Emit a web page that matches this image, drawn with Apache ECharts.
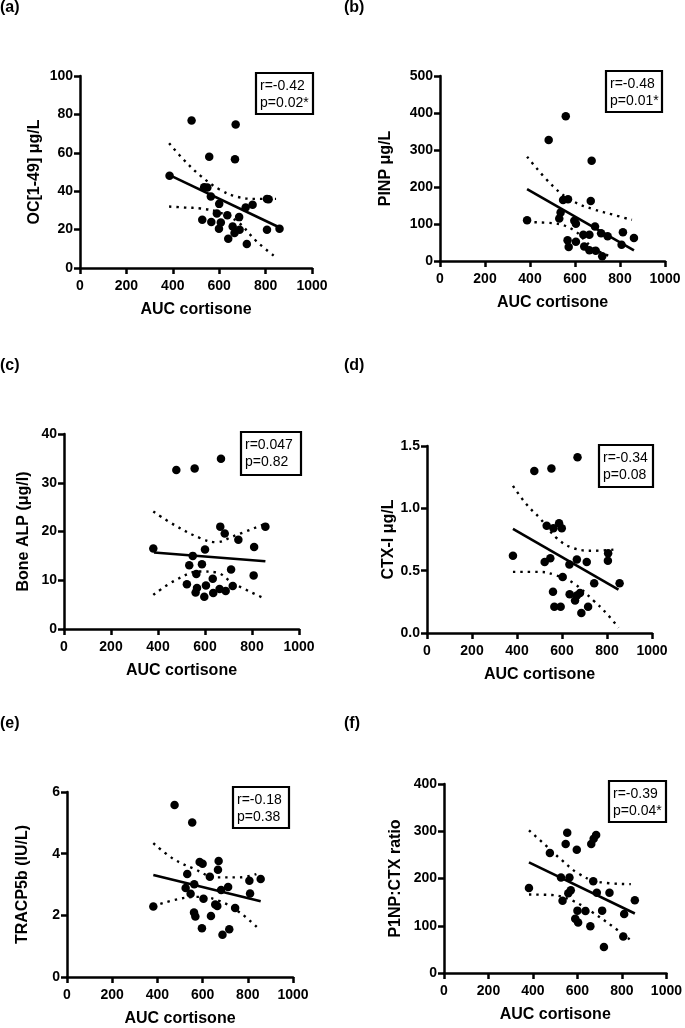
<!DOCTYPE html>
<html>
<head>
<meta charset="utf-8">
<script src="https://cdn.jsdelivr.net/npm/echarts@6/dist/echarts.min.js"></script>
<style>
html,body{margin:0;padding:0;background:#fff;}
#chart{width:685px;height:1028px;}
</style>
</head>
<body>
<div id="chart"></div>
<script>
// ---------- data ----------
const panelLetters = ['(a)', '(b)', '(c)', '(d)', '(e)', '(f)'];
const yTitles = ['OC[1-49] \u03bcg/L', 'PINP \u03bcg/L', 'Bone ALP (\u03bcg/l)', 'CTX-I \u03bcg/L', 'TRACP5b (IU/L)', 'P1NP:CTX ratio'];
const statR = ['r=-0.42', 'r=-0.48', 'r=0.047', 'r=-0.34', 'r=-0.18', 'r=-0.39'];
const statP = ['p=0.02*', 'p=0.01*', 'p=0.82', 'p=0.08', 'p=0.38', 'p=0.04*'];
const xTitle = 'AUC cortisone';
const xMin = 0, xMax = 1000, xStep = 200;
const yMins = [0, 0, 0, 0, 0, 0];
const yMaxs = [100, 500, 40, 1.5, 6, 400];
const ySteps = [20, 100, 10, 0.5, 2, 100];
const yDecimals = [0, 0, 0, 1, 0, 0];

// (a) OC[1-49]
const aucA = [386,481,557,671,668,535,549,564,600,527,566,590,607,599,635,639,658,666,686,688,719,714,744,806,813,806,860];
const ocVals = [48.1,76.8,58.0,74.7,56.6,42.0,41.9,37.2,33.4,25.1,23.9,28.4,23.7,20.4,27.5,15.2,21.6,18.2,26.5,19.9,12.5,31.5,32.9,36.0,35.8,19.9,20.4];
const fitXA = [386, 851], fitYA = [48.4, 21.6];
const ciUpXA = [384,450,520,600,680,760,845], ciUpYA = [65,56,48,41,37,36,36];
const ciLoXA = [384,450,520,600,680,760,845], ciLoYA = [32,31.5,31,29,24,14,5.5];

// (b) PINP
const aucB = [387,483,559,674,670,547,569,536,530,597,604,567,572,604,637,664,641,664,692,689,721,716,745,813,807,862];
const pinpVals = [110,327,391,271,162,165,167,131,115,109,101,56,38,52,71,71,39,29,28,93,13,75,67,78,44,62];
const fitXB = [387, 862], fitYB = [194, 29];
const ciUpXB = [387,504,593,681,770,853], ciUpYB = [282,201,161,140,125,111];
const ciLoXB = [387,504,593,681,759], ciLoYB = [105,102,84,35,12];

// (c) Bone ALP
const aucC = [380,478,556,668,665,684,742,857,809,548,600,533,587,563,633,711,807,523,566,560,604,597,635,662,688,718];
const alpVals = [16.5,32.6,32.9,34.9,21.0,19.6,18.3,21.0,16.8,15.0,16.3,13.1,13.3,11.3,10.3,12.2,11.0,9.2,8.4,7.5,8.9,6.6,7.4,8.2,7.8,8.8];
const fitXC = [383, 857], fitYC = [15.7, 13.9];
const ciUpXC = [380,478,577,648,719,847], ciUpYC = [24.1,21.1,18.7,17.8,19.0,21.4];
const ciLoXC = [380,478,577,648,719,847], ciLoYC = [7.0,10.1,11.8,11.6,9.4,6.4];

// (d) CTX-I
const aucD = [382,477,553,669,532,562,587,599,523,548,603,633,666,710,743,805,804,856,560,566,594,634,658,680,666,716,686];
const ctxVals = [0.62,1.30,1.32,1.41,0.86,0.84,0.88,0.84,0.57,0.60,0.45,0.55,0.59,0.57,0.40,0.64,0.58,0.40,0.33,0.21,0.21,0.31,0.26,0.32,0.30,0.21,0.16];
const fitXD = [382, 851], fitYD = [0.836, 0.348];
const ciUpXD = [382,443,502,577,651,740,837], ciUpYD = [1.18,1.03,0.92,0.76,0.68,0.66,0.67];
const ciLoXD = [382,502,577,651,740,799,851], ciLoYD = [0.49,0.49,0.46,0.40,0.26,0.155,0.043];

// (e) TRACP5b
const aucE = [382,476,554,532,587,600,671,668,632,525,563,547,604,562,568,597,637,656,665,682,713,744,688,718,807,810,857];
const tracpVals = [2.29,5.58,5.01,3.34,3.73,3.67,3.76,3.48,3.25,2.89,3.01,2.70,2.54,2.09,1.96,1.58,1.98,2.35,2.30,2.82,2.92,2.24,1.37,1.55,3.12,2.71,3.18];
const fitXE = [382, 857], fitYE = [3.31, 2.46];
const ciUpXE = [382,471,559,662,765,838], ciUpYE = [4.34,3.83,3.52,3.23,3.23,3.34];
const ciLoXE = [382,500,588,676,765,843], ciLoYE = [2.30,2.54,2.60,2.46,2.09,1.60];

// (f) P1NP:CTX ratio
const aucF = [382,476,554,547,597,662,684,673,526,564,570,559,533,671,687,744,600,636,590,603,658,711,810,806,719,858];
const ratioVals = [180,254,297,273,261,273,292,284,202,202,175,169,153,194,170,170,132,131,115,107,99,132,125,77,55,154];
const fitXF = [382, 858], fitYF = [234, 126];
const ciUpXF = [382,455,529,603,692,840], ciUpYF = [302,271,239,211,193,188];
const ciLoXF = [382,484,573,662,751,846], ciLoYF = [166,165,154,130,101,67];

// ---------- layout (pixels) ----------
const grids = [
  {left: 80,  top: 76,  width: 232, height: 192},
  {left: 440, top: 76,  width: 225, height: 185},
  {left: 64,  top: 434, width: 235, height: 195},
  {left: 427, top: 446, width: 225, height: 187},
  {left: 67,  top: 792, width: 226, height: 189},
  {left: 444, top: 784, width: 225, height: 189}
];
const yNameGaps = [37, 46, 32, 30, 36, 40];
const boxes = [
  {x: 256, y: 73,  w: 57, h: 41},
  {x: 606, y: 71,  w: 56, h: 41},
  {x: 241, y: 432, w: 60, h: 43},
  {x: 599, y: 445, w: 54, h: 42},
  {x: 233, y: 787, w: 56, h: 41},
  {x: 609, y: 781, w: 57, h: 41}
];
const letterPos = [
  {x: 0, y: 8}, {x: 344, y: 8},
  {x: 0, y: 366}, {x: 344, y: 366},
  {x: 0, y: 724}, {x: 344, y: 724}
];

const FONT = '"Liberation Sans", Arial, Helvetica, sans-serif';

const xs = [aucA, aucB, aucC, aucD, aucE, aucF];
const ys = [ocVals, pinpVals, alpVals, ctxVals, tracpVals, ratioVals];
const fits = [[fitXA, fitYA], [fitXB, fitYB], [fitXC, fitYC], [fitXD, fitYD], [fitXE, fitYE], [fitXF, fitYF]];
const ciUps = [[ciUpXA, ciUpYA], [ciUpXB, ciUpYB], [ciUpXC, ciUpYC], [ciUpXD, ciUpYD], [ciUpXE, ciUpYE], [ciUpXF, ciUpYF]];
const ciLos = [[ciLoXA, ciLoYA], [ciLoXB, ciLoYB], [ciLoXC, ciLoYC], [ciLoXD, ciLoYD], [ciLoXE, ciLoYE], [ciLoXF, ciLoYF]];

function pairs(a, b) { return a.map((v, i) => [v, b[i]]); }

const option = {
  animation: false,
  backgroundColor: '#fff',
  textStyle: {fontFamily: FONT},
  grid: [], xAxis: [], yAxis: [], series: [], graphic: []
};

const axisLineStyle = {color: '#000', width: 2.5};
const dotStyle = {color: '#000', width: 2.4, type: [2.4, 5], cap: 'butt'};

for (let i = 0; i < 6; i++) {
  option.grid.push(Object.assign({containLabel: false}, grids[i]));
  option.xAxis.push({
    type: 'value', gridIndex: i, min: xMin, max: xMax, interval: xStep,
    name: xTitle, nameLocation: 'middle', nameGap: 34,
    nameTextStyle: {fontFamily: FONT, fontWeight: 'bold', fontSize: 16, color: '#000'},
    axisLine: {show: true, onZero: false, lineStyle: axisLineStyle},
    axisTick: {show: true, inside: false, length: 6, lineStyle: {color: '#000', width: 2.5}},
    axisLabel: {fontFamily: FONT, fontWeight: 'bold', fontSize: 14, color: '#000', margin: 11,
      formatter: v => String(v)},
    splitLine: {show: false}
  });
  const dec = yDecimals[i];
  option.yAxis.push({
    type: 'value', gridIndex: i, min: yMins[i], max: yMaxs[i], interval: ySteps[i],
    name: yTitles[i], nameLocation: 'middle', nameGap: yNameGaps[i], nameRotate: 90,
    nameTextStyle: {fontFamily: FONT, fontWeight: 'bold', fontSize: 16, color: '#000'},
    axisLine: {show: true, onZero: false, lineStyle: axisLineStyle},
    axisTick: {show: true, inside: false, length: 6, lineStyle: {color: '#000', width: 2.5}},
    axisLabel: {fontFamily: FONT, fontWeight: 'bold', fontSize: 14, color: '#000', margin: 7,
      formatter: v => Number(v).toFixed(dec)},
    splitLine: {show: false}
  });
  option.series.push({
    type: 'line', xAxisIndex: i, yAxisIndex: i, data: pairs(ciUps[i][0], ciUps[i][1]),
    smooth: 0.4, showSymbol: false, silent: true, lineStyle: dotStyle
  });
  option.series.push({
    type: 'line', xAxisIndex: i, yAxisIndex: i, data: pairs(ciLos[i][0], ciLos[i][1]),
    smooth: 0.4, showSymbol: false, silent: true, lineStyle: dotStyle
  });
  option.series.push({
    type: 'line', xAxisIndex: i, yAxisIndex: i, data: pairs(fits[i][0], fits[i][1]),
    showSymbol: false, silent: true,
    lineStyle: {color: '#000', width: 2.6}
  });
  option.series.push({
    type: 'scatter', xAxisIndex: i, yAxisIndex: i, data: pairs(xs[i], ys[i]),
    symbol: 'circle', symbolSize: 8.5,
    itemStyle: {color: '#000', opacity: 1}
  });

  const b = boxes[i];
  option.graphic.push({
    type: 'rect', shape: {x: b.x, y: b.y, width: b.w, height: b.h},
    style: {fill: '#fff', stroke: '#000', lineWidth: 2.2}, z: 100
  });
  option.graphic.push({
    type: 'text', x: b.x + 4, y: b.y + 13,
    style: {text: statR[i], font: '14px ' + FONT, fill: '#000', textVerticalAlign: 'middle', verticalAlign: 'middle'}, z: 101
  });
  option.graphic.push({
    type: 'text', x: b.x + 4, y: b.y + 30,
    style: {text: statP[i], font: '14px ' + FONT, fill: '#000', textVerticalAlign: 'middle', verticalAlign: 'middle'}, z: 101
  });
  const lp = letterPos[i];
  option.graphic.push({
    type: 'text', x: lp.x, y: lp.y,
    style: {text: panelLetters[i], font: 'bold 16px ' + FONT, fill: '#000', verticalAlign: 'middle', textVerticalAlign: 'middle'}, z: 101
  });
}

const chart = echarts.init(document.getElementById('chart'), null, {renderer: 'canvas', width: 685, height: 1028});
chart.setOption(option);
</script>
</body>
</html>
